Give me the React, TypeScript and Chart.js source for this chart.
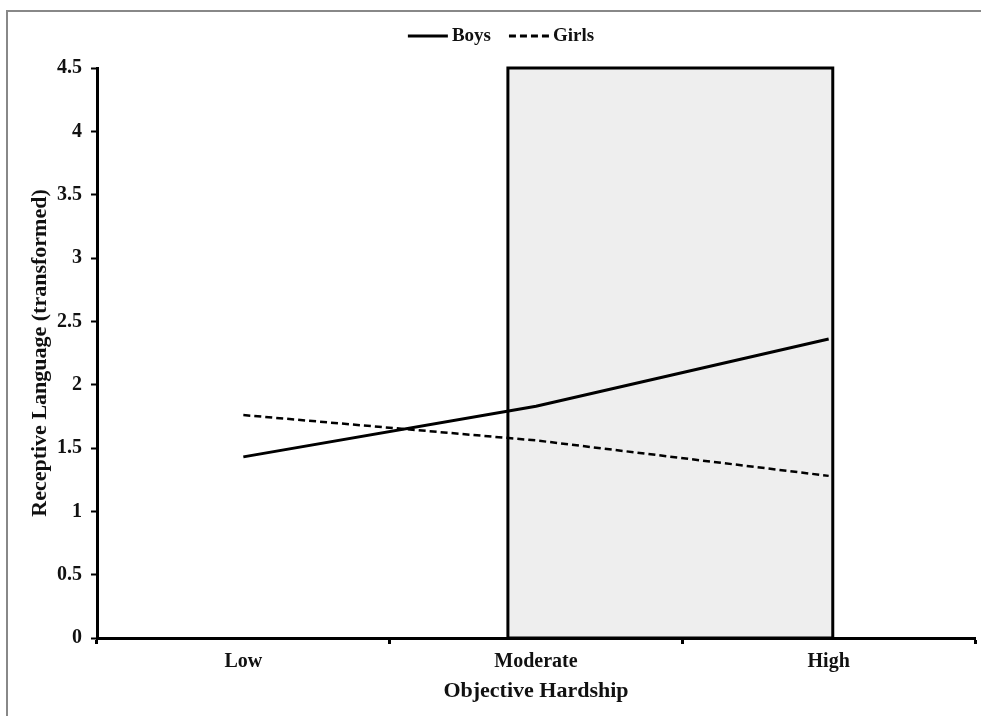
import React, { useEffect, useRef } from "react";
import { Chart, registerables } from "chart.js";

Chart.register(...registerables);

const categories = ["Low", "Moderate", "High"];
const boysValues = [1.43, 1.83, 2.36];
const girlsValues = [1.76, 1.56, 1.28];
const yTicks = [0, 0.5, 1, 1.5, 2, 2.5, 3, 3.5, 4, 4.5];
const shadedXRange = [0.904, 2.014];
const shadedYRange = [0, 4.5];

const FONT = "'Liberation Serif', 'Times New Roman', serif";

const shadePlugin = {
  id: "shade",
  beforeDatasetsDraw(chart: any) {
    const { ctx, scales } = chart;
    const x = scales.x;
    const y = scales.y;
    const x0 = x.getPixelForValue(shadedXRange[0]);
    const x1 = x.getPixelForValue(shadedXRange[1]);
    const y0 = y.getPixelForValue(shadedYRange[1]);
    const y1 = y.getPixelForValue(shadedYRange[0]);
    ctx.save();
    ctx.fillStyle = "#eeeeee";
    ctx.fillRect(x0, y0, x1 - x0, y1 - y0);
    ctx.strokeStyle = "#000";
    ctx.lineWidth = 3;
    ctx.strokeRect(x0, y0, x1 - x0, y1 - y0);
    ctx.restore();
  },
};

const legendPlugin = {
  id: "customLegend",
  afterDraw(chart: any) {
    const { ctx } = chart;
    const sets = chart.data.datasets;
    const lineLen = 40;
    const gap = 4;
    const between = 18;
    const cy = 36;
    ctx.save();
    ctx.font = `bold 19px ${FONT}`;
    const widths = sets.map((d: any) => lineLen + gap + ctx.measureText(d.label).width);
    const total = widths.reduce((a: number, b: number) => a + b, 0) + between * (sets.length - 1);
    let x = 501 - total / 2;
    sets.forEach((d: any, i: number) => {
      ctx.strokeStyle = d.borderColor;
      ctx.lineWidth = 3;
      ctx.setLineDash(d.borderDash ? [7, 4] : []);
      ctx.beginPath();
      ctx.moveTo(x, cy);
      ctx.lineTo(x + lineLen, cy);
      ctx.stroke();
      ctx.setLineDash([]);
      ctx.fillStyle = "#111";
      ctx.textBaseline = "middle";
      ctx.textAlign = "left";
      ctx.fillText(d.label, x + lineLen + gap, cy);
      x += widths[i] + between;
    });
    ctx.restore();
  },
};

export default function App() {
  const ref = useRef<HTMLCanvasElement>(null);
  useEffect(() => {
    if (!ref.current) return;
    const chart = new Chart(ref.current, {
      type: "line",
      data: {
        labels: categories,
        datasets: [
          {
            label: "Boys",
            data: boysValues,
            borderColor: "#000",
            backgroundColor: "#000",
            borderWidth: 3,
            pointRadius: 0,
          },
          {
            label: "Girls",
            data: girlsValues,
            borderColor: "#000",
            backgroundColor: "#000",
            borderWidth: 2.5,
            borderDash: [7, 4],
            pointRadius: 0,
          },
        ],
      },
      plugins: [shadePlugin, legendPlugin],
      options: {
        responsive: false,
        animation: false,
        layout: { padding: { top: 68, right: 6, left: 27, bottom: 0 } },
        plugins: {
          legend: { display: false },
          tooltip: { enabled: false },
        },
        scales: {
          x: {
            type: "category",
            offset: true,
            grid: {
              offset: true,
              drawOnChartArea: false,
              drawTicks: true,
              tickLength: 6,
              tickWidth: 3,
              tickColor: "#000",
            },
            border: { color: "#000", width: 3 },
            ticks: {
              color: "#111",
              font: { family: FONT, size: 20, weight: "bold" },
              padding: 6,
              maxRotation: 0,
            },
            title: {
              display: true,
              text: "Objective Hardship",
              color: "#111",
              font: { family: FONT, size: 22, weight: "bold" },
              padding: { top: 0, bottom: 11 },
            },
            afterFit(scale: any) {
              scale.height = 78;
            },
          },
          y: {
            type: "linear",
            min: 0,
            max: 4.5,
            afterBuildTicks(scale: any) {
              scale.ticks = yTicks.map((v) => ({ value: v }));
            },
            grid: {
              drawOnChartArea: false,
              drawTicks: true,
              tickLength: 6,
              tickWidth: 2,
              tickColor: "#000",
            },
            border: { color: "#000", width: 3 },
            ticks: {
              color: "#111",
              font: { family: FONT, size: 20, weight: "bold" },
              padding: 9,
              callback: (v: any) => String(v),
            },
            title: {
              display: true,
              text: "Receptive Language (transformed)",
              color: "#111",
              font: { family: FONT, size: 22, weight: "bold" },
              padding: { top: 0, bottom: 0 },
            },
            afterFit(scale: any) {
              scale.width = 70;
            },
          },
        },
      },
    });
    return () => chart.destroy();
  }, []);
  return (
    <div style={{ position: "fixed", left: 0, top: 0, width: 981, height: 716, background: "#fff" }}>
      <div
        style={{
          position: "absolute",
          left: 6,
          top: 10,
          width: 1000,
          height: 720,
          borderTop: "2px solid #888",
          borderLeft: "2px solid #888",
        }}
      />
      <canvas ref={ref} width={981} height={716} style={{ position: "absolute", left: 0, top: 0 }} />
    </div>
  );
}
